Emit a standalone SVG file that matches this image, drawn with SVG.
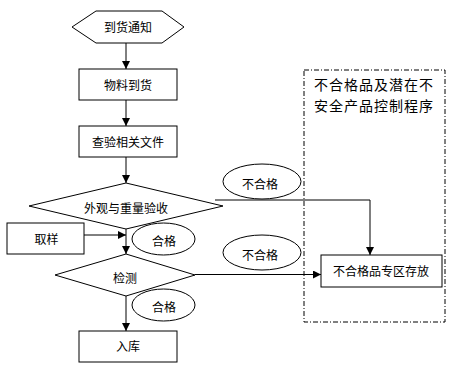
<svg xmlns="http://www.w3.org/2000/svg" width="462" height="374" viewBox="0 0 462 374">
<style>
.s{fill:#fff;stroke:#000;stroke-width:1}
.t{font-family:"Noto Sans CJK SC","Noto Sans",sans-serif;font-size:12px;fill:#000;text-anchor:middle}
.c{fill:none;stroke:#000;stroke-width:1}
</style>
<defs>
<marker id="a" markerWidth="8" markerHeight="8" refX="8" refY="4" orient="auto" markerUnits="userSpaceOnUse">
<path d="M0,0 L8,4 L0,8 Z" fill="#000"/>
</marker>
</defs>
<rect width="462" height="374" fill="#fff"/>
<g id="region">
<rect x="304" y="70" width="141" height="252" fill="none" stroke="#000" stroke-width="1" stroke-dasharray="5,2,1,2"/>
<text x="314" y="90" style="font-family:'Noto Sans CJK SC',sans-serif;font-size:14px;letter-spacing:1px">不合格品及潜在不</text>
<text x="314" y="111" style="font-family:'Noto Sans CJK SC',sans-serif;font-size:14px;letter-spacing:1px">安全产品控制程序</text>
</g>
<g id="connectors">
<line class="c" x1="126" y1="43" x2="126" y2="69" marker-end="url(#a)"/>
<line class="c" x1="126" y1="100" x2="126" y2="126" marker-end="url(#a)"/>
<line class="c" x1="126" y1="157" x2="126" y2="183" marker-end="url(#a)"/>
<line class="c" x1="126" y1="225" x2="126" y2="254" marker-end="url(#a)"/>
<line class="c" x1="84" y1="235" x2="126" y2="235" marker-end="url(#a)"/>
<line class="c" x1="126" y1="296" x2="126" y2="331" marker-end="url(#a)"/>
<polyline class="c" points="215,200 370,200 370,255" marker-end="url(#a)"/>
<line class="c" x1="195" y1="274.5" x2="321" y2="274.5" marker-end="url(#a)"/>
</g>
<g id="n1"><polygon class="s" points="72,27 96,11 162,11 184,27 162,43 96,43"/><text class="t" x="128" y="32">到货通知</text></g>
<g id="n2"><rect class="s" x="79" y="69" width="98" height="31"/><text class="t" x="128" y="89.5">物料到货</text></g>
<g id="n3"><rect class="s" x="79" y="126" width="98" height="31"/><text class="t" x="128" y="146.5">查验相关文件</text></g>
<g id="n4"><polygon class="s" points="126,183 223,206 126,229 29,206"/><text class="t" x="126" y="212.5">外观与重量验收</text></g>
<g id="n5"><rect class="s" x="7" y="223" width="77" height="31"/><text class="t" x="46.5" y="243.5">取样</text></g>
<g id="n6"><polygon class="s" points="126,254 195,275 126,296 55,275"/><text class="t" x="125" y="282.5">检测</text></g>
<g id="n7"><rect class="s" x="79" y="331" width="98" height="31"/><text class="t" x="128" y="351">入库</text></g>
<g id="n8"><rect class="s" x="321" y="255" width="121" height="32"/><text class="t" x="381" y="275.5">不合格品专区存放</text></g>
<g id="l1"><ellipse class="s" cx="163.5" cy="239" rx="31.5" ry="16"/><text class="t" x="164" y="245.5">合格</text></g>
<g id="l2"><ellipse class="s" cx="163.5" cy="305" rx="31.5" ry="16"/><text class="t" x="164" y="312">合格</text></g>
<g id="l3"><ellipse class="s" cx="262" cy="181.5" rx="39" ry="17.5"/><text class="t" x="260" y="188.5">不合格</text></g>
<g id="l4"><ellipse class="s" cx="262" cy="252.5" rx="39" ry="17.5"/><text class="t" x="260" y="259.5">不合格</text></g>
</svg>
